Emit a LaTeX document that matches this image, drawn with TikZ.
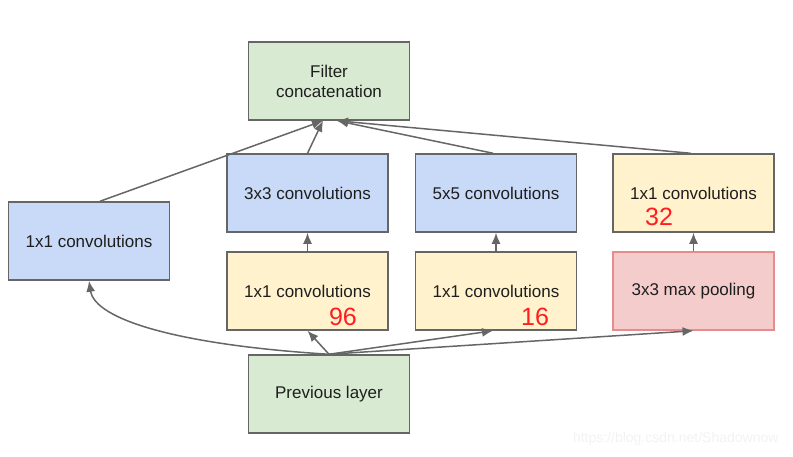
\documentclass[tikz,border=0pt]{standalone}
\usepackage{fontspec}
\setmainfont{Liberation Sans}
\usetikzlibrary{arrows.meta}

\begin{document}
\begin{tikzpicture}[x=1pt,y=-1pt,
  layer/.style={draw=edgecolor,line width=1.5pt,minimum width=161pt,minimum height=78pt,
    inner sep=0pt,align=center,text=textcolor,font=\fontsize{17}{20}\selectfont},
  conn/.style={draw=edgecolor,line width=1.5pt,-{Latex[length=11pt,width=9pt]}},
  count/.style={text=countcolor,inner sep=0pt,font=\fontsize{25}{25}\selectfont}]
\definecolor{edgecolor}{RGB}{102,102,102}
\definecolor{textcolor}{RGB}{30,30,30}
\definecolor{greencolor}{RGB}{217,234,211}
\definecolor{bluecolor}{RGB}{201,218,248}
\definecolor{yellowcolor}{RGB}{255,242,204}
\definecolor{pinkcolor}{RGB}{244,204,204}
\definecolor{pinkedge}{RGB}{230,140,140}
\definecolor{countcolor}{RGB}{255,30,30}
\definecolor{markcolor}{RGB}{242,242,242}
\useasboundingbox (0,0) rectangle (793,456);
% layers
\node [layer,fill=greencolor] (concat) at (329,81) {Filter\\concatenation};
\node [layer,fill=bluecolor] (conva) at (89,241) {1x1 convolutions};
\node [layer,fill=bluecolor] (convb) at (307.5,193) {3x3 convolutions};
\node [layer,fill=bluecolor] (convc) at (496,193) {5x5 convolutions};
\node [layer,fill=yellowcolor] (convd) at (693.5,193) {1x1 convolutions};
\node [layer,fill=yellowcolor] (redb) at (307.5,291) {1x1 convolutions};
\node [layer,fill=yellowcolor] (redc) at (496,291) {1x1 convolutions};
\node [layer,fill=pinkcolor,draw=pinkedge] (pool) at (693.5,291) {3x3 max pooling};
\node [layer,fill=greencolor] (prev) at (329,394) {Previous layer};
% filter counts
\node [count] (numb) at (343,317) {96};
\node [count] (numc) at (535,317) {16};
\node [count] (numd) at (659,217) {32};
% connectors
\draw [conn] (prev.north) .. controls (180,345) and (95,320) .. (conva.south);
\draw [conn] (prev.north) -- (redb.south);
\draw [conn] (prev.north) -- ([xshift=-3pt]redc.south);
\draw [conn] (prev.north) -- (pool.south);
\draw [conn] (redb.north) -- (convb.south);
\draw [conn] (redc.north) -- (convc.south);
\draw [conn] (pool.north) -- (convd.south);
\draw [conn] ([xshift=11pt]conva.north) -- ([xshift=-6pt]concat.south);
\draw [conn] (convb.north) -- ([xshift=-6pt]concat.south);
\draw [conn] ([xshift=-3pt]convc.north) -- ([xshift=8pt]concat.south);
\draw [conn] ([xshift=-3pt]convd.north) -- ([xshift=8pt]concat.south);
% watermark
\node [text=markcolor,font=\fontsize{14}{14}\selectfont,anchor=east] (mark) at (782,439) {https://blog.csdn.net/Shadownow};
\end{tikzpicture}
\end{document}
